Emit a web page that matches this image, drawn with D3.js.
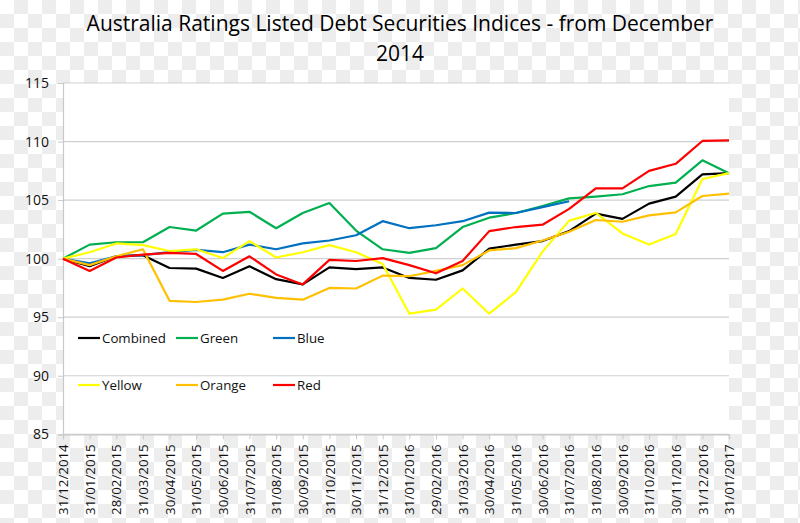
<!DOCTYPE html>
<html><head><meta charset="utf-8">
<script src="https://cdn.jsdelivr.net/npm/d3@7"></script>
<style>body{margin:0;background:#fff;} svg{display:block;}</style>
</head><body>
<script>
const titleLines = ["Australia Ratings Listed Debt Securities Indices - from December", "2014"];
const dates = ["31/12/2014","31/01/2015","28/02/2015","31/03/2015","30/04/2015","31/05/2015","30/06/2015","31/07/2015","31/08/2015","30/09/2015","31/10/2015","30/11/2015","31/12/2015","31/01/2016","29/02/2016","31/03/2016","30/04/2016","31/05/2016","30/06/2016","31/07/2016","31/08/2016","30/09/2016","31/10/2016","30/11/2016","31/12/2016","31/01/2017"];
const yTicks = [85,90,95,100,105,110,115];
const seriesNames = ["Combined","Green","Blue","Yellow","Orange","Red"];
const combined = [100,99.35,100.2,100.3,99.2,99.15,98.35,99.35,98.25,97.8,99.25,99.1,99.25,98.35,98.2,99.0,100.85,101.2,101.5,102.35,103.85,103.4,104.7,105.3,107.2,107.3];
const green = [100,101.2,101.4,101.4,102.7,102.4,103.85,104.0,102.6,103.9,104.75,102.4,100.8,100.5,100.9,102.7,103.5,103.9,104.5,105.15,105.3,105.5,106.2,106.5,108.4,107.3];
const blue = [100,99.6,100.2,100.3,100.55,100.75,100.55,101.2,100.8,101.3,101.55,102.0,103.2,102.6,102.85,103.2,103.93,103.9,104.4,104.9,null,null,null,null,null,null];
const yellow = [100,100.55,101.3,101.15,100.65,100.8,100.05,101.5,100.1,100.55,101.15,100.55,99.55,95.3,95.65,97.45,95.3,97.15,100.6,103.25,103.9,102.15,101.2,102.1,106.8,107.3];
const orange = [100,99.45,100.2,100.8,96.4,96.3,96.5,97.0,96.65,96.5,97.5,97.45,98.55,98.5,98.95,99.45,100.7,100.9,101.55,102.3,103.3,103.15,103.7,103.95,105.35,105.55];
const red = [100,98.95,100.1,100.35,100.5,100.4,98.95,100.2,98.65,97.8,99.9,99.8,100.05,99.45,98.75,99.8,102.35,102.7,102.9,104.25,106.0,106.0,107.5,108.1,110.05,110.1];

const seriesValues = [combined, green, blue, yellow, orange, red];
const colors = ["#000000","#00b050","#0070c0","#ffff00","#ffc000","#ff0000"];

const W = 800, H = 523;
const plot = {left:63, right:729, top:83, bottom:434.3};
const font = "'Open Sans', sans-serif";

const svg = d3.select("body").append("svg").attr("width", W).attr("height", H);
const defs = svg.append("defs");
const pat = defs.append("pattern").attr("id","checker").attr("patternUnits","userSpaceOnUse")
  .attr("width",28).attr("height",28);
pat.append("rect").attr("width",28).attr("height",28).attr("fill","#ffffff");
pat.append("rect").attr("x",14).attr("y",0).attr("width",14).attr("height",14).attr("fill","#ededed");
pat.append("rect").attr("x",0).attr("y",14).attr("width",14).attr("height",14).attr("fill","#ededed");
svg.append("rect").attr("width",W).attr("height",H).attr("fill","url(#checker)");

const x = d3.scalePoint().domain(dates).range([plot.left, plot.right]);
const y = d3.scaleLinear().domain([85,115]).range([plot.bottom, plot.top]);

svg.append("rect").attr("x",plot.left).attr("y",plot.top)
  .attr("width",plot.right-plot.left).attr("height",plot.bottom-plot.top).attr("fill","#fff");

// title
const title = svg.append("text").attr("text-anchor","middle").attr("font-family",font)
  .attr("font-size",21).attr("fill","#000");
titleLines.forEach((t,i)=>{
  title.append("tspan").attr("x",400).attr("y", 31 + i*30).text(t);
});

// gridlines
svg.append("g").selectAll("line").data(yTicks).join("line")
  .attr("x1",plot.left).attr("x2",plot.right)
  .attr("y1",d=>y(d)).attr("y2",d=>y(d))
  .attr("stroke","#d0d0d0").attr("stroke-width",1.2);

// y axis
const yAxis = svg.append("g").attr("transform",`translate(${plot.left},0)`)
  .call(d3.axisLeft(y).tickValues(yTicks).tickSize(5).tickPadding(9).tickFormat(d3.format("d")));
yAxis.select(".domain").attr("stroke","#c8c8c8").attr("stroke-width",1.2);
yAxis.selectAll(".tick line").attr("stroke","#c8c8c8");
yAxis.selectAll("text").attr("font-family",font).attr("font-size",14).attr("fill","#111");

// x axis
const xAxis = svg.append("g").attr("transform",`translate(0,${plot.bottom})`)
  .call(d3.axisBottom(x).tickSize(5).tickPadding(4));
xAxis.select(".domain").attr("stroke","#c8c8c8").attr("stroke-width",1.2);
xAxis.selectAll(".tick line").attr("stroke","#c8c8c8");
xAxis.selectAll("text").attr("font-family",font).attr("font-size",13.3).attr("fill","#111")
  .attr("text-anchor","end").attr("dy","0.35em")
  .attr("transform","translate(0,6) rotate(-90)").attr("x",-4).attr("y",0);

// lines
const line = d3.line().defined(d=>d.v!=null).x(d=>x(d.d)).y(d=>y(d.v));
seriesValues.forEach((vals,i)=>{
  svg.append("path").datum(vals.map((v,j)=>({d:dates[j], v})))
    .attr("fill","none").attr("stroke",colors[i]).attr("stroke-width",2.2)
    .attr("stroke-linejoin","round").attr("d",line);
});

// legend
const legX = [78,176,273], legY = [338,385];
seriesNames.forEach((n,i)=>{
  const lx = legX[i%3], ly = legY[Math.floor(i/3)];
  const g = svg.append("g").attr("transform",`translate(${lx},${ly})`);
  g.append("line").attr("x1",0).attr("x2",22).attr("y1",0).attr("y2",0)
    .attr("stroke",colors[i]).attr("stroke-width",2.2);
  g.append("text").attr("x",24).attr("y",0).attr("dy","0.35em")
    .attr("font-family",font).attr("font-size",13.3).attr("fill","#111").text(n);
});
</script>
</body></html>
